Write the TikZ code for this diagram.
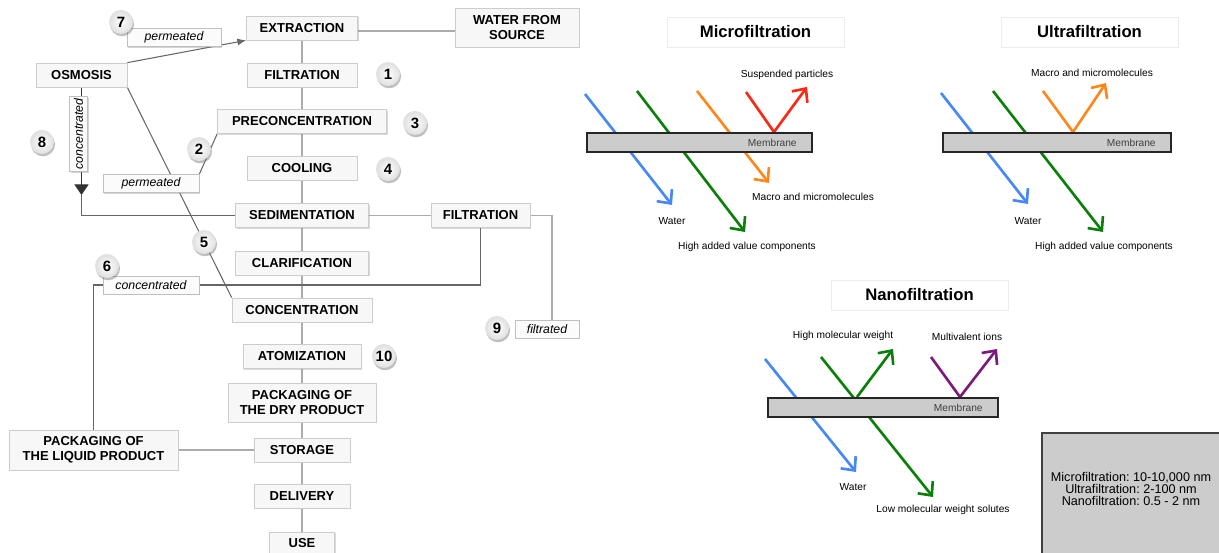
\documentclass[tikz,border=0pt]{standalone}
\usepackage{fontspec}
\setmainfont{Liberation Sans}
\usepackage{tikz}
\usetikzlibrary{positioning, arrows.meta, shadows, backgrounds}
\frenchspacing

\definecolor{mfblue}{RGB}{70,135,250}
\definecolor{mfgreen}{RGB}{10,128,10}
\definecolor{mforange}{RGB}{255,135,25}
\definecolor{mfred}{RGB}{250,40,20}
\definecolor{mfpurple}{RGB}{125,25,120}

\begin{document}
\begin{tikzpicture}[x=0.02cm, y=-0.02cm,
    stagebox/.style={draw=gray!40, fill=gray!6, minimum height=0.48cm, inner sep=1pt,
        font=\fontsize{7.4}{8.4}\selectfont\bfseries, align=center,
        drop shadow={opacity=0.3, shadow xshift=0.7pt, shadow yshift=-0.7pt}},
    flowtag/.style={draw=gray!50, fill=gray!3, minimum height=0.36cm, inner sep=1pt,
        font=\fontsize{7}{8}\selectfont\itshape,
        drop shadow={opacity=0.35, shadow xshift=0.7pt, shadow yshift=-0.7pt}},
    numball/.style={circle, inner color=white, outer color=gray!25, minimum size=0.48cm,
        inner sep=0pt, font=\fontsize{8.5}{9}\selectfont\bfseries,
        drop shadow={opacity=0.5, shadow xshift=0.6pt, shadow yshift=-1.3pt}},
    link/.style={draw=gray!65, line width=0.6pt},
    ray/.style={line width=1.5pt, -{Straight Barb[length=6pt, width=11pt]}},
    membrane/.style={draw=black!85, line width=1pt, fill=gray!40, minimum height=0.38cm, inner sep=0pt},
    memtext/.style={font=\fontsize{5.8}{7}\selectfont, text=black!75},
    caption/.style={font=\fontsize{5.8}{7}\selectfont},
    titlebox/.style={draw=gray!15, fill=white, minimum width=3.54cm, minimum height=0.6cm,
        font=\fontsize{9.5}{11}\selectfont\bfseries}
]
\useasboundingbox (0,0) rectangle (1219,553);

% process stages
\node[stagebox, minimum width=2.22cm] (extr) at (302,28) {EXTRACTION};
\node[stagebox, minimum width=2.48cm, minimum height=0.78cm] (water) at (517,27.5) {WATER FROM\\SOURCE};
\node[stagebox, minimum width=1.82cm] (osm) at (81.5,75) {OSMOSIS};
\node[stagebox, minimum width=2.2cm] (filt) at (302,75) {FILTRATION};
\node[stagebox, minimum width=3.38cm] (precon) at (302,121.5) {PRECONCENTRATION};
\node[stagebox, minimum width=2.2cm] (cool) at (302,168) {COOLING};
\node[stagebox, minimum width=2.66cm] (sedim) at (302,215.5) {SEDIMENTATION};
\node[stagebox, minimum width=1.98cm] (filtb) at (480.5,215.5) {FILTRATION};
\node[stagebox, minimum width=2.66cm] (clarif) at (302,263) {CLARIFICATION};
\node[stagebox, minimum width=2.8cm] (conc) at (302,310) {CONCENTRATION};
\node[stagebox, minimum width=2.36cm] (atom) at (302,356.5) {ATOMIZATION};
\node[stagebox, minimum width=2.96cm, minimum height=0.78cm] (packdry) at (302,402.5) {PACKAGING OF\\THE DRY PRODUCT};
\node[stagebox, minimum width=1.92cm] (stor) at (302,450) {STORAGE};
\node[stagebox, minimum width=1.92cm] (deliv) at (302,496) {DELIVERY};
\node[stagebox, minimum width=1.3cm, minimum height=0.44cm] (use) at (302,543) {USE};
\node[stagebox, minimum width=3.38cm, minimum height=0.8cm] (packliq) at (93.5,450) {PACKAGING OF\\THE LIQUID PRODUCT};

% stream tags
\node[flowtag, minimum width=1.88cm] (permA) at (174,37.5) {permeated};
\node[flowtag, minimum width=1.92cm] (permB) at (151,183.5) {permeated};
\node[flowtag, minimum width=1.5cm, rotate=90] (concA) at (78.5,134) {concentrated};
\node[flowtag, minimum width=1.92cm] (concB) at (151,285) {concentrated};
\node[flowtag, minimum width=1.28cm] (filtr) at (547,329) {filtrated};
\coordinate (tri) at (81.5,195);

% connectors
\begin{pgfonlayer}{background}
    \draw[link] (extr) -- (use);
    \draw[link] (extr.east |- 0,31) -- (water.west |- 0,31);
    \draw[link, draw=gray!80!black, -{Latex[length=5pt, width=4pt]}] (osm.north east) -- (extr.south west);
    \draw[link, draw=gray!80!black] (osm.south east) -- (conc.north west);
    \draw[link, draw=gray!80!black] (precon.south west) -- (permB.north east);
    \draw[link, draw=black!80, -{Triangle[length=6pt, width=8pt]}] (osm.south) -- (tri);
    \draw[link, draw=gray!80!black] (tri) |- (sedim.west);
    \draw[link] (sedim.east) -- (filtb.west);
    \draw[link] (filtb.east) -| ([xshift=0.1cm]filtr.north);
    \draw[link, draw=gray!80!black] (filtb.south) |- (concB.east);
    \draw[link, draw=gray!80!black] (concB.west) -| (packliq.north);
    \draw[link] (packliq.east) -- (stor.west);
\end{pgfonlayer}

% step numbers
\node[numball] (n7) at (121,22) {7};
\node[numball] (n1) at (388,74) {1};
\node[numball] (n3) at (415,123) {3};
\node[numball] (n4) at (388,169) {4};
\node[numball] (n2) at (199,149) {2};
\node[numball] (n8) at (42,142) {8};
\node[numball] (n5) at (204,242) {5};
\node[numball] (n6) at (107,266) {6};
\node[numball] (n9) at (497,328) {9};
\node[numball] (n10) at (384,356) {10};

% microfiltration
\node[titlebox] (mftitle) at (755.5,32) {Microfiltration};
\draw[ray, mfblue] (585,94) -- (672,205);
\draw[ray, mfgreen] (637,91) -- (745,232);
\draw[ray, mforange] (697,91) -- (769,183);
\draw[ray, mfred] (746,92) -- (774,132) -- (807,87);
\node[membrane, minimum width=4.5cm] (mfmem) at (699.5,142.5) {};
\node[memtext, anchor=east] at ([xshift=-0.2cm]mfmem.east) {Membrane};
\node[caption] (mfsusp) at (787,75) {Suspended particles};
\node[caption] (mfmacro) at (813,197) {Macro and micromolecules};
\node[caption] (mfwater) at (672,221) {Water};
\node[caption] (mfhigh) at (747,247) {High added value components};

% ultrafiltration
\node[titlebox] (uftitle) at (1089.5,32) {Ultrafiltration};
\draw[ray, mfblue] (941,93) -- (1028,204);
\draw[ray, mfgreen] (993,91) -- (1103,232);
\draw[ray, mforange] (1043,91) -- (1073,132) -- (1106,83);
\node[membrane, minimum width=4.56cm] (ufmem) at (1057,142.5) {};
\node[memtext, anchor=east] at ([xshift=-0.2cm]ufmem.east) {Membrane};
\node[caption] (ufmacro) at (1092,73) {Macro and micromolecules};
\node[caption] (ufwater) at (1028,221) {Water};
\node[caption] (ufhigh) at (1104,247) {High added value components};

% nanofiltration
\node[titlebox] (nftitle) at (919.5,295) {Nanofiltration};
\draw[ray, mfblue] (765,359) -- (856,472);
\draw[ray, mfgreen] (821,357) -- (933,497);
\draw[ray, mfgreen] (857,397) -- (893,349);
\draw[ray, mfpurple] (931,357) -- (960,397) -- (997,349);
\node[membrane, minimum width=4.6cm] (nfmem) at (883,407.5) {};
\node[memtext, anchor=east] at ([xshift=-0.2cm]nfmem.east) {Membrane};
\node[caption] (nfhigh) at (843,336) {High molecular weight};
\node[caption] (nfions) at (967,337) {Multivalent ions};
\node[caption] (nfwater) at (853,487) {Water};
\node[caption] (nflow) at (943,510) {Low molecular weight solutes};

% pore sizes
\draw[draw=black!75, line width=0.8pt, fill=gray!40] (1042,433) rectangle (1222,556);
\node[font=\fontsize{7.2}{7}\selectfont, align=center] (sizes) at (1131,489)
    {Microfiltration: 10-10,000 nm\\Ultrafiltration: 2-100 nm\\Nanofiltration: 0.5 - 2 nm};
\end{tikzpicture}
\end{document}
